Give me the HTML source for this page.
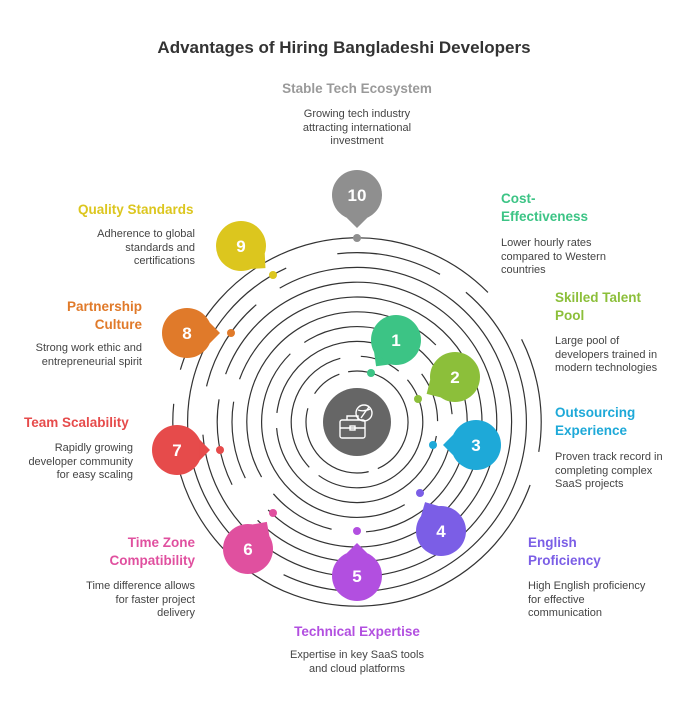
<!DOCTYPE html>
<html><head><meta charset="utf-8">
<style>
body{margin:0;background:#fff;width:688px;height:720px;overflow:hidden;position:relative;font-family:"Liberation Sans",sans-serif}
.t{position:absolute;white-space:nowrap}
.h{font-weight:bold;font-size:13.5px;line-height:18px}
.b{font-size:11px;line-height:13.5px;color:#444}
.r{text-align:right}
.c{text-align:center}
svg{position:absolute;left:0;top:0}
</style></head><body>
<svg id="s" width="688" height="720" viewBox="0 0 688 720"></svg>
<div class="t c" style="left:0;width:688px;top:38px;font-size:17px;font-weight:bold;color:#333">Advantages of Hiring Bangladeshi Developers</div>

<div class="t h c" style="left:207px;width:300px;top:80px;color:#9a9a9a">Stable Tech Ecosystem</div>
<div class="t b c" style="left:207px;width:300px;top:108px">Growing tech industry<br>attracting international<br>investment</div>

<div class="t h" style="left:501px;top:190px;color:#3cc485">Cost-<br>Effectiveness</div>
<div class="t b" style="left:501px;top:237px">Lower hourly rates<br>compared to Western<br>countries</div>

<div class="t h" style="left:555px;top:289px;color:#8cbf3a">Skilled Talent<br>Pool</div>
<div class="t b" style="left:555px;top:335px">Large pool of<br>developers trained in<br>modern technologies</div>

<div class="t h" style="left:555px;top:404px;color:#1ea9d8">Outsourcing<br>Experience</div>
<div class="t b" style="left:555px;top:451px">Proven track record in<br>completing complex<br>SaaS projects</div>

<div class="t h" style="left:528px;top:534px;color:#7b5ee6">English<br>Proficiency</div>
<div class="t b" style="left:528px;top:580px">High English proficiency<br>for effective<br>communication</div>

<div class="t h c" style="left:207px;width:300px;top:623px;color:#b24fe0">Technical Expertise</div>
<div class="t b c" style="left:207px;width:300px;top:649px">Expertise in key SaaS tools<br>and cloud platforms</div>

<div class="t h r" style="right:493px;top:534px;color:#e0509f">Time Zone<br>Compatibility</div>
<div class="t b r" style="right:493px;top:580px">Time difference allows<br>for faster project<br>delivery</div>

<div class="t h" style="left:24px;top:414px;color:#e64b4b">Team Scalability</div>
<div class="t b r" style="right:555px;top:442px">Rapidly growing<br>developer community<br>for easy scaling</div>

<div class="t h r" style="right:546px;top:298px;color:#e07a2a">Partnership<br>Culture</div>
<div class="t b r" style="right:546px;top:342px">Strong work ethic and<br>entrepreneurial spirit</div>

<div class="t h" style="left:78px;top:201px;color:#dcc61e">Quality Standards</div>
<div class="t b r" style="right:493px;top:228px">Adherence to global<br>standards and<br>certifications</div>

<script>
var s=document.getElementById('s'),cx=357,cy=422,h='';
var rot=[-100,-40,10,60,150,200,-160,-120,-50,20];
for(var i=0;i<10;i++){
 var r=51+14.8*i,C=2*Math.PI*r;
 var d=[0.46*C,0.03*C,0.33*C,0.05*C,0.1*C,0.03*C];
 h+='<circle cx="'+cx+'" cy="'+cy+'" r="'+r+'" fill="none" stroke="#333" stroke-width="1.2" stroke-dasharray="'+d.join(' ')+'" transform="rotate('+rot[i]+' '+cx+' '+cy+')"/>';
}
h+='<circle cx="'+cx+'" cy="'+cy+'" r="34" fill="#666"/>';
h+='<g fill="none" stroke="#fff" stroke-width="1.4"><rect x="340" y="420" width="25" height="18" rx="2"/><path d="M347 420v-4h11v4M340 428h25"/><rect x="350" y="426" width="5" height="4"/><circle cx="364" cy="413" r="8"/><path d="M358 410q6 2 12-1M361 418q4-6 8-11"/></g>';
var B=[[396,340,371,373,'#3cc485'],[455,377,418,399,'#8cbf3a'],[476,445,433,445,'#1ea9d8'],[441,531,420,493,'#7b5ee6'],[357,576,357,531,'#b24fe0'],[248,549,273,513,'#e0509f'],[177,450,220,450,'#e64b4b'],[187,333,231,333,'#e07a2a'],[241,246,273,275,'#dcc61e'],[357,195,357,238,'#8f8f8f']];
for(var k=0;k<10;k++){
 var b=B[k],dx=b[2]-b[0],dy=b[3]-b[1],L=Math.hypot(dx,dy),ux=dx/L,uy=dy/L,R=25;
 var a=Math.atan2(uy,ux),t=0.42;
 var tx=b[0]+ux*(R+8),ty=b[1]+uy*(R+8);
 var p1=[b[0]+R*Math.cos(a+t),b[1]+R*Math.sin(a+t)],p2=[b[0]+R*Math.cos(a-t),b[1]+R*Math.sin(a-t)];
 h+='<circle cx="'+b[2]+'" cy="'+b[3]+'" r="4" fill="'+b[4]+'"/>';
 h+='<circle cx="'+b[0]+'" cy="'+b[1]+'" r="'+R+'" fill="'+b[4]+'"/>';
 h+='<polygon points="'+p1+' '+tx+','+ty+' '+p2+'" fill="'+b[4]+'"/>';
 h+='<text x="'+b[0]+'" y="'+(b[1]+6)+'" text-anchor="middle" font-family="Liberation Sans, sans-serif" font-weight="bold" font-size="17" fill="#fff">'+(k+1)+'</text>';
}
s.innerHTML=h;
</script>
</body></html>
